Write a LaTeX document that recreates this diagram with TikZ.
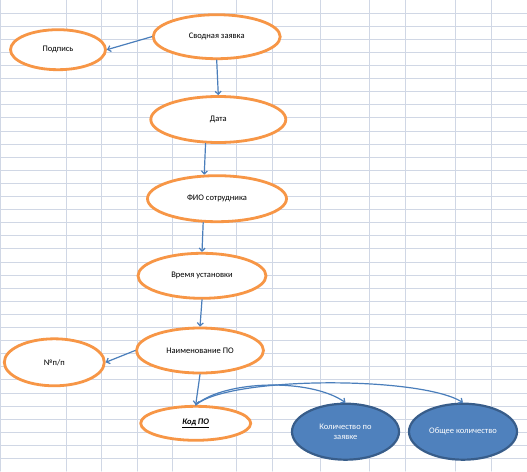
\documentclass[tikz,border=0pt]{standalone}
\usepackage{fontspec}
\setmainfont{Carlito}
\usetikzlibrary{shapes.geometric,arrows.meta}
\definecolor{ornge}{HTML}{F79646}
\definecolor{bluefill}{HTML}{4F81BD}
\definecolor{bluedge}{HTML}{385D8A}
\definecolor{bline}{HTML}{4A7EBB}
\definecolor{gridc}{HTML}{D0D7E5}
\begin{document}
\begin{tikzpicture}[x=1pt,y=-1pt, font=\fontsize{8.5}{10}\selectfont, line join=round, line cap=round, >={Straight Barb[length=3pt,width=6pt]},
	oval/.style={ellipse, draw=ornge, fill=white, line width=2.8pt, inner sep=0pt},
	bluoval/.style={ellipse, draw=bluedge, fill=bluefill, line width=2.2pt, inner sep=0pt, text=white, align=center},
	link/.style={->, draw=bline, line width=1.2pt}]
				\useasboundingbox (0,0) rectangle (527,471);
				\fill[white] (0,0) rectangle (527,471);
				\foreach \k in {1,...,35} \draw[gridc, line width=1pt] (0,13.1*\k)--(527,13.1*\k);
				\foreach \x in {0.5,66,101.7,137.3,172.7,236.3,272.3,320.3,369.3,405.3,455.3,491.3} \draw[gridc, line width=1pt] (\x,0)--(\x,471);
				\node[oval, minimum width=127, minimum height=44] (svod) at (216.7,36.7) {Сводная заявка};
				\node[oval, minimum width=95, minimum height=40] (podp) at (58,49.7) {Подпись};
				\node[oval, minimum width=135, minimum height=46] (data) at (218.3,119.5) {Дата};
				\node[oval, minimum width=139, minimum height=46] (fio) at (217,198.7) {ФИО сотрудника};
				\node[oval, minimum width=128, minimum height=45] (vrem) at (202,275.8) {Время установки};
				\node[oval, minimum width=127, minimum height=45] (naim) at (200,350.5) {Наименование ПО};
				\node[oval, minimum width=100, minimum height=47] (nomer) at (54.3,362.3) {№п/п};
				\node[oval, minimum width=110, minimum height=34] (kod) at (195.7,423.3) {\underline{\textbf{\textit{Код ПО}}}};
				\node[bluoval, minimum width=107, minimum height=56] (kolz) at (345.5,431.7) {Количество по\\заявке};
				\node[bluoval, minimum width=108, minimum height=56] (obsh) at (463,431.7) {Общее количество};
				\draw[link] (svod.west)--(podp.east);
				\draw[link] (svod.south)--(data.north);
				\draw[link] (data.242)--(fio.118);
				\draw[link] (fio.240)--(vrem.north);
				\draw[link] (vrem.south)--(naim.north);
				\draw[link] (naim.west)--(nomer.east);
				\draw[link] (naim.south)--(kod.north);
				\draw[link] (kod.north) .. controls (230,376) and (420,376) .. (obsh.north);
				\draw[link] (kod.north) .. controls (225,380) and (310,378) .. (kolz.north);
		\end{tikzpicture}
\end{document}
